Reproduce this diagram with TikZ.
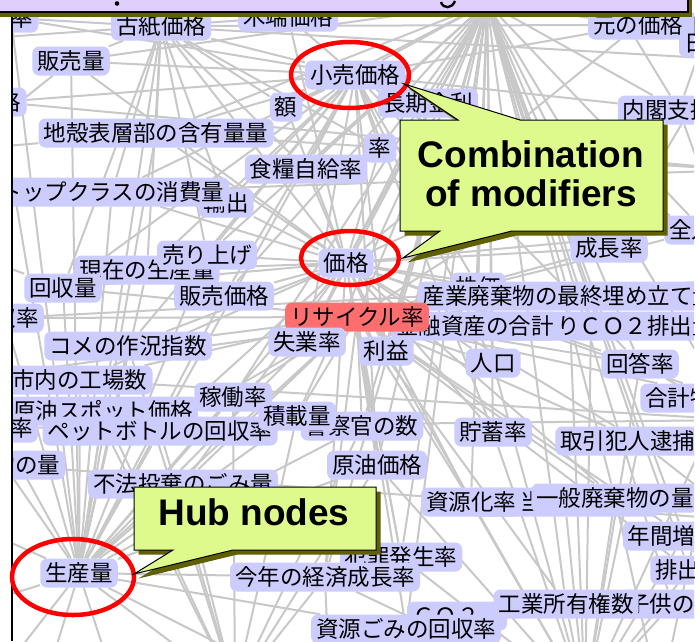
\documentclass[tikz,border=0pt]{standalone}
\usepackage{fontspec}
\newfontfamily\jpfont{Noto Sans CJK JP}
\newfontfamily\calloutfont{Liberation Sans}
\usetikzlibrary{backgrounds}
\definecolor{kwfill}{RGB}{204,204,255}
\definecolor{kwred}{RGB}{255,110,110}
\definecolor{edgegray}{RGB}{200,200,200}
\definecolor{callfill}{RGB}{222,250,140}
\definecolor{shadowc}{RGB}{96,96,0}
\definecolor{titlefill}{RGB}{224,206,252}
\tikzset{
  kw/.style={fill=kwfill, rounded corners=7pt, inner xsep=5pt, inner ysep=2pt,
    minimum height=29pt, text=black, font=\jpfont\fontsize{22.5}{24}\selectfont},
  kwhot/.style={kw, fill=kwred},
  edge/.style={draw=edgegray, line width=2pt},
  ring/.style={draw=red, line width=4.5pt},
  calltext/.style={font=\calloutfont\bfseries\fontsize{37}{40}\selectfont,
    inner sep=0pt, anchor=base, text=black},
  callbox/.style={fill=callfill, draw=black, line width=1pt, line join=miter}
}
\begin{document}
\begin{tikzpicture}[x=1pt,y=-1pt]
\useasboundingbox (0,0) rectangle (699,641);

% ---------- keyword nodes (painted in stacking order) ----------
\begin{scope}
\clip (12,0) rectangle (694,641);
\node[kw] (a04) at (708,27) {上昇};
\node[kw] (a05) at (729,43) {日経平均};
\node[kw] (a60) at (638,25) {元の価格};
\node[kw] (a01) at (11,18) {利率};
\node[kw] (a02) at (161,26) {古紙価格};
\node[kw] (a03) at (288,17) {木端価格};
\node[kw] (a06) at (71,61) {販売量};
\node[kw] (a07) at (-1,102) {価格};
\node[kw] (a08) at (355,75) {小売価格};
\node[kw] (a09) at (286,107) {額};
\node[kw] (a10) at (428,103) {長期金利};
\node[kw] (a11) at (679,110) {内閣支持率};
\node[kw] (a12) at (156,133) {地殻表層部の含有量量};
\node[kw] (a13) at (380,148) {率};
\node[kw] (a14) at (306,169) {食糧自給率};
\node[kw] (a15) at (226,203) {輸出};
\node[kw] (a16) at (112,192) {トップクラスの消費量};
\node[kw] (a17) at (703,230) {全人口};
\node[kw] (a18) at (609,248) {成長率};
\node[kw] (a19) at (147,270) {現在の生産量};
\node[kw] (a20) at (207,255) {売り上げ};
\node[kw] (a21) at (346,263) {価格};
\node[kw] (a22) at (63,288) {回収量};
\node[kw] (a23) at (224,296) {販売価格};
\node[kw] (a24) at (5,318) {回収率};
\node[kw] (a25) at (478,287) {株価};
\node[kw] (a26) at (569,296) {産業廃棄物の最終埋め立て量};
\node[kw] (a27) at (591,326) {一人当たりＣＯ２排出量};
\node[kw] (a28) at (475,326) {金融資産の合計};
\node[kwhot] (a29) at (357,317) {リサイクル率};
\node[kw] (a30) at (307,342) {失業率};
\node[kw] (a31) at (386,351) {利益};
\node[kw] (a32) at (493,363) {人口};
\node[kw] (a33) at (640,364) {回答率};
\node[kw] (a34) at (724,398) {合計特殊出生率};
\node[kw] (a35) at (128,346) {コメの作況指数};
\node[kw] (a36) at (80,380) {市内の工場数};
\node[kw] (a37) at (103,411) {原油スポット価格};
\node[kw] (a38) at (233,397) {稼働率};
\node[kw] (a39) at (-1,428) {検挙率};
\node[kw] (a40) at (160,431) {ペットボトルの回収率};
\node[kw] (a41) at (362,426) {警察官の数};
\node[kw] (a42) at (297,416) {積載量};
\node[kw] (a43) at (493,432) {貯蓄率};
\node[kw] (a44) at (639,441) {取引犯人逮捕率};
\node[kw] (a45) at (4,465) {廃棄物の量};
\node[kw] (a46) at (377,465) {原油価格};
\node[kw] (a47) at (183,484) {不法投棄のごみ量};
\node[kw] (a49) at (565,502) {一人当たり出資金};
\node[kw] (a48) at (471,502) {資源化率};
\node[kw] (a50) at (615,498) {一般廃棄物の量};
\node[kw] (a51) at (684,536) {年間増加率};
\node[kw] (a52) at (401,557) {犯罪発生率};
\node[kw] (a53) at (689,570) {排出量};
\node[kw] (a54) at (79,573) {生産量};
\node[kw] (a55) at (325,577) {今年の経済成長率};
\node[kw, text width=90pt, align=left] (a56) at (457,616) {ＣＯ２};
\node[kw] (a57) at (672,604) {子供の数};
\node[kw] (a58) at (566,604) {工業所有権数};
\node[kw] (a59) at (406,629) {資源ごみの回収率};
\end{scope}

% ---------- connectors, kept behind the keywords ----------
\begin{scope}[on background layer]
\fill[white] (0,0) rectangle (699,641);
\clip (12,0) rectangle (694,641);
\coordinate (hubT) at (487,3);
\coordinate (hubB) at (585,700);
\coordinate (hubC) at (235,690);
\coordinate (oL1) at (-40,40);  \coordinate (oL2) at (-40,150);
\coordinate (oL3) at (-40,250); \coordinate (oL4) at (-40,380);
\coordinate (oL5) at (-40,520); \coordinate (oL6) at (-40,610);
\coordinate (oR1) at (740,60);  \coordinate (oR2) at (740,170);
\coordinate (oR3) at (740,280); \coordinate (oR4) at (740,420);
\coordinate (oR5) at (740,520); \coordinate (oR6) at (740,620);
\coordinate (oB1) at (40,700);  \coordinate (oB2) at (120,700);
\coordinate (oB3) at (330,700); \coordinate (oB4) at (450,700);
\coordinate (oB5) at (660,700); \coordinate (oB6) at (-20,700);
\coordinate (oT1) at (70,-20);  \coordinate (oT2) at (200,-20);
\coordinate (oT3) at (350,-20); \coordinate (oT4) at (600,-20);

\foreach \t in {a08,a09,a10,a13,a14,a21,a29,a25,a18,a11,a60,a17,a32,a31,a30,
  a43,a33,a34,a44,a50,a48,a51,a46,a52,a53,a58,a59,a55,a20,a23,a12,a06,a42,
  a41,a38,a26,a28,a27,a57}
  \draw[edge] (hubT) -- (\t);
\foreach \t in {a02,a06,a12,a16,a22,a19,a20,a23,a35,a36,a37,a40,a47,a38,a42,
  a41,a46,a55,a59,a21,a08,a29,a30,a24,a39,a45,a07,a01,oB1,oB2,oB6,oL5,oL6,
  hubC,oB3}
  \draw[edge] (a54) -- (\t);
\foreach \t in {a02,a03,a60,a06,a12,a09,a10,a14,a13,a20,a19,a22,a23,a18,a25,
  a26,a30,a31,a32,a33,a35,a36,a43,a44,a46,a48,a50,a52,a55,a40,a47,a11,a17,
  a34,a16,a15}
  \draw[edge] (a21) -- (\t);
\foreach \t in {a02,a03,a60,a06,a12,a09,a10,a11,a14,a13,a15,a20,a23,a19,a18,
  a17,a22,a25,a31,a32,a35,a30,a43,a33,a46,a16,a07,a01}
  \draw[edge] (a08) -- (\t);
\foreach \t in {a22,a35,a36,a40,a38,a42,a41,a46,a48,a32,a33,a34,a44,a50,a51,
  a52,a55,a53,a58,a59,a47,a18,a17,a11,a24}
  \draw[edge] (a29) -- (\t);
\foreach \t in {a06,a12,a09,a14,a13,a20,a15,a16,a19,a22,a03,a60,oT1,oL1}
  \draw[edge] (a02) -- (\t);
\foreach \t in {a50,a48,a43,a32,a44,a33,a34,a51,a53,a46,a52,a55,a58,a57,a31,
  a27,a26,a49}
  \draw[edge] (hubB) -- (\t);
\foreach \t in {a47,a40,a38,a42,a41,a46,a35,a36,a55,a37}
  \draw[edge] (hubC) -- (\t);
\foreach \s/\t in {a06/oL2,a12/oL2,a22/oL3,a07/oR2,a36/oR4,a11/oR3,a60/oR1,
  a17/oR3,a44/oR5,a33/oR4,a51/oR6,a53/oR6,a26/oL4,a03/oT3,a11/oT4,a59/oB4,
  a55/oB3,a50/oB5,a34/oB5,a12/oR2,a16/oR2,a03/oT2,a60/oT4,a05/a18,a04/a11,
  a45/oR5,a39/oR4,a24/oR3,a01/oR1}
  \draw[edge] (\s) -- (\t);
\end{scope}

% ---------- frame line on the left ----------
\draw[black, line width=1.3pt] (12,12) -- (12,641);

% ---------- highlight rings ----------
\draw[ring] (350,75) ellipse [x radius=59pt, y radius=33pt];
\draw[ring] (350,258) ellipse [x radius=49pt, y radius=27pt];
\draw[ring] (73,577) ellipse [x radius=61pt, y radius=38pt];

% ---------- callout: combination of modifiers ----------
\begin{scope}[shift={(4.5,4.5)}]
\fill[shadowc] (400,120) -- (458,120) -- (404,84) -- (520,120) -- (663,120)
  -- (663,231) -- (512,231) -- (403,258) -- (440,231) -- (400,231) -- cycle;
\end{scope}
\filldraw[callbox] (400,120) -- (458,120) -- (404,84) -- (520,120) -- (663,120)
  -- (663,231) -- (512,231) -- (403,258) -- (440,231) -- (400,231) -- cycle;
\node[calltext] (cm1) at (531,167) {Combination};
\node[calltext] (cm2) at (531,206) {of modifiers};

% ---------- callout: hub nodes ----------
\begin{scope}[shift={(4.5,4.5)}]
\fill[shadowc] (134,487) -- (376,487) -- (376,550) -- (233,550) -- (134,574)
  -- (173,550) -- (134,550) -- cycle;
\end{scope}
\filldraw[callbox] (134,487) -- (376,487) -- (376,550) -- (233,550) -- (134,574)
  -- (173,550) -- (134,550) -- cycle;
\node[calltext] (hn) at (254,525) {Hub nodes};

% ---------- title bar along the top ----------
\fill[shadowc] (-6,-6) rectangle (692,16.5);
\filldraw[fill=titlefill, draw=black, line width=1.2pt] (-10,-10) rectangle (688,12);
\fill[black] (117,3.5) circle (2.3pt);
\draw[black, line width=2.4pt] (441,2) .. controls (443,9) and (452,9) .. (455,1);
\end{tikzpicture}
\end{document}
